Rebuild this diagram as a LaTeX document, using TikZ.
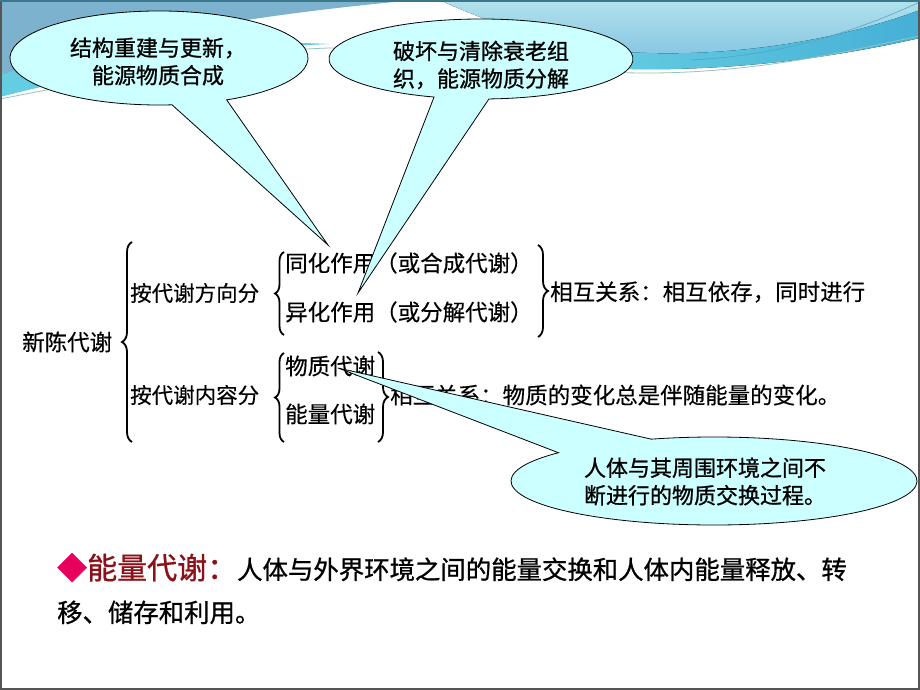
\documentclass[tikz,border=0pt]{standalone}
\usepackage{fontspec}
\newfontfamily\cjk{Noto Sans CJK SC}[FakeBold=0.3]
\newfontfamily\cjkh{Noto Sans CJK SC}[FakeBold=0.9]
\usetikzlibrary{decorations.pathreplacing}
\definecolor{calloutfill}{RGB}{204,255,255}
\definecolor{decoA}{RGB}{124,178,206}
\definecolor{bTop}{RGB}{178,226,236}
\definecolor{bBot}{RGB}{132,196,226}
\definecolor{bandL}{RGB}{100,205,225}
\definecolor{bandR}{RGB}{70,175,215}
\definecolor{thinA}{RGB}{150,195,190}
\definecolor{thinB}{RGB}{80,165,200}
\definecolor{frameC}{RGB}{85,85,85}
\definecolor{frameT}{RGB}{60,120,140}
\definecolor{diam}{RGB}{232,0,92}
\definecolor{maroonC}{RGB}{140,16,24}
\begin{document}
\begin{tikzpicture}[x=1pt,y=1pt,
  lbl/.style={font=\cjk\fontsize{22.5}{27}\selectfont, inner sep=0pt, anchor=west},
  grp/.style={lbl, font=\cjk\fontsize{21.5}{26}\selectfont},
  brc/.style={decorate, decoration={brace, amplitude=#1}, line width=1.8pt},
  brc/.default=10,
  callout/.style={fill=calloutfill, draw=black, line width=0.8pt, line join=miter},
  ctext/.style={font=\cjkh\fontsize{22}{27.5}\selectfont, align=center, inner sep=0pt},
]
\useasboundingbox (0,0) rectangle (920,-690);
\fill[white] (0,0) rectangle (920,-690);

% top decoration
\fill[bandL] (0,-70) .. controls (120,-45) and (250,-40) .. (330,-44)
  .. controls (250,-47) and (120,-66) .. (0,-97) -- cycle;
\fill[decoA] (0,0) -- (415,0) .. controls (330,-8) and (160,-25) .. (0,-75) -- cycle;
\fill[top color=bTop, bottom color=bBot] (440,0) -- (920,0) -- (920,-22)
  .. controls (860,-42) and (780,-60) .. (700,-58)
  .. controls (610,-55) and (520,-38) .. (440,0) -- cycle;
\fill[left color=bandL, right color=bandR] (600,-50) .. controls (720,-62) and (840,-40) .. (920,-10)
  -- (920,-38) .. controls (840,-56) and (730,-74) .. (600,-68) -- cycle;
\draw[thinA, line width=0.8pt] (0,-99) .. controls (150,-70) and (250,-50) .. (330,-48)
  .. controls (450,-46) and (540,-72) .. (640,-73) .. controls (760,-74) and (860,-48) .. (920,-36);
\draw[thinB, line width=0.6pt] (690,-60) .. controls (800,-55) and (880,-20) .. (920,-2);

% diagram text
\node[lbl] (xc) at (22,-342) {新陈代谢};
\node[grp] (fx) at (130,-293) {按代谢方向分};
\node[grp] (nr) at (130,-395) {按代谢内容分};
\node[lbl] (th) at (285,-263) {同化作用（或合成代谢）};
\node[lbl] (yh) at (285,-312) {异化作用（或分解代谢）};
\node[lbl] (gx1) at (550,-292) {相互关系：相互依存，同时进行};
\node[lbl] (wz) at (285,-366) {物质代谢};
\node[lbl] (nl) at (285,-414) {能量代谢};
\node[lbl] (gx2) at (390,-395) {相互关系：物质的变化总是伴随能量的变化。};

% braces
\draw[brc=10] (132,-442) -- (132,-242);
\draw[brc=9] (284,-335) -- (284,-252);
\draw[brc=10] (538,-245) -- (538,-337);
\draw[brc=9] (284,-442) -- (284,-353);
\draw[brc=10] (378,-352) -- (378,-442);

% callouts
\coordinate (c1) at (159,-58);
\coordinate (t1) at (328,-245);
\coordinate (c2) at (481,-59);
\coordinate (t2) at (358,-293);
\coordinate (c3) at (714,-481);
\coordinate (t3) at (338,-368);
\draw[callout] (c1) ++(-63:149 and 47) arc[start angle=-63, end angle=275, x radius=149, y radius=47] -- (t1) -- cycle;
\draw[callout] (c2) ++(-87:152 and 40) arc[start angle=-87, end angle=252, x radius=152, y radius=40] -- (t2) -- cycle;
\draw[callout] (c3) ++(140:203 and 44) arc[start angle=140, end angle=468, x radius=203, y radius=44] -- (t3) -- cycle;
\node[ctext] (k1) at (158,-61.5) {结构重建与更新，\\能源物质合成};
\node[ctext] (k2) at (481,-65) {破坏与清除衰老组\\织，能源物质分解};
\node[ctext] (k3) at (705,-481.5) {人体与其周围环境之间不\\断进行的物质交换过程。};

% bottom text
\node[anchor=base west, inner sep=0pt, font=\cjkh] (b1) at (57,-579)
  {\fontsize{30}{36}\selectfont\color{diam}◆\color{maroonC}能量代谢：\fontsize{25.4}{30}\selectfont\color{black}人体与外界环境之间的能量交换和人体内能量释放、转};
\node[anchor=base west, inner sep=0pt, font=\cjkh\fontsize{25.4}{30}\selectfont] (b2) at (57,-622) {移、储存和利用。};

% frame
\draw[frameC, line width=2pt] (1,-1) rectangle (919,-689);
\draw[frameT, line width=2pt] (0,-1) -- (920,-1);
\end{tikzpicture}
\end{document}
